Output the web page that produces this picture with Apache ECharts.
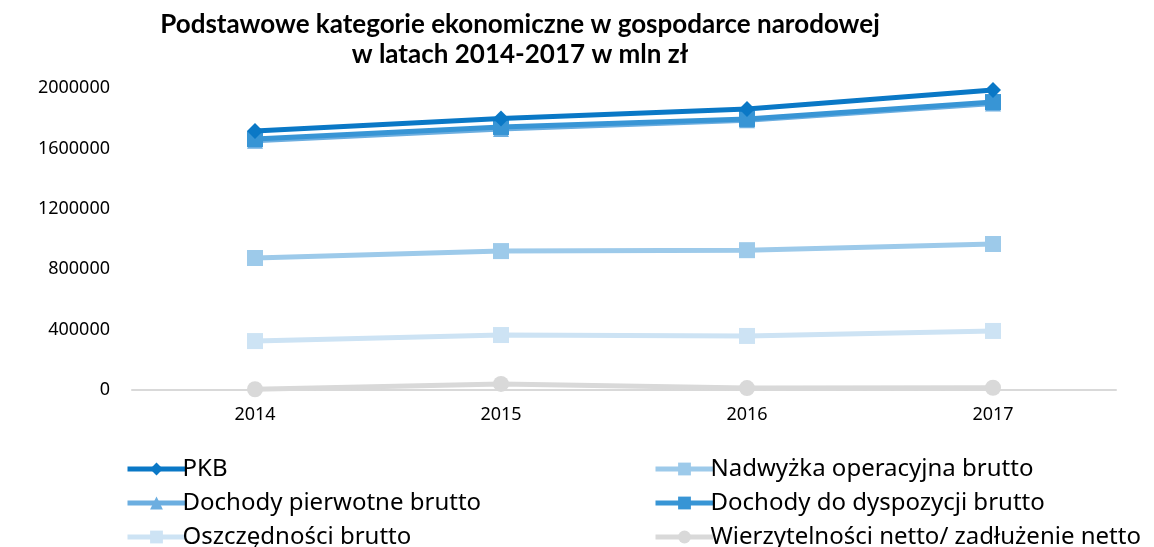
<!DOCTYPE html>
<html><head><meta charset="utf-8">
<script src="https://cdn.jsdelivr.net/npm/echarts@6/dist/echarts.min.js"></script>
<style>html,body{margin:0;padding:0;background:#fff}#c{width:1154px;height:547px}</style>
</head><body><div id="c"></div>
<script>
const categories = ['2014','2015','2016','2017'];
const pkb = [1716000, 1798000, 1861000, 1987000];
const nadwyzka = [874000, 920000, 926000, 967000];
const dochodyPierwotne = [1650000, 1728000, 1786000, 1898000];
const dochodyDyspozycji = [1662000, 1742000, 1795000, 1907000];
const oszczednosci = [324000, 364000, 358000, 391000];
const wierzytelnosci = [5000, 40000, 13000, 15000];
const names = ['PKB','Nadwyżka operacyjna brutto','Dochody pierwotne brutto','Dochody do dyspozycji brutto','Oszczędności brutto','Wierzytelności netto/ zadłużenie netto'];

const font = 'Noto Sans';
function s(name, data, color, symbol, size, z){
  return {name, type:'line', data, symbol, symbolSize:size, z,
    lineStyle:{color, width:5}, itemStyle:{color}, showSymbol:true, animation:false};
}
const legendCommon = {orient:'vertical', top:448, height:120, itemWidth:58, itemHeight:16, itemGap:2,
  lineStyle:{width:5}, textStyle:{fontFamily:font, fontSize:24, lineHeight:32, color:'#000', padding:[0,0,0,-8]}};
const chart = echarts.init(document.getElementById('c'));
chart.setOption({
  animation:false,
  title:{text:'Podstawowe kategorie ekonomiczne w gospodarce narodowej\nw latach 2014-2017 w mln zł', left:515, textAlign:'center', top:5,
    textStyle:{fontFamily:'Lato', fontWeight:'bold', fontSize:26, lineHeight:30, color:'#000'}},
  grid:{left:132, right:38, top:88, bottom:157},
  xAxis:{type:'category', data:categories, boundaryGap:true,
    axisLine:{lineStyle:{color:'#d9d9d9', width:2}}, axisTick:{show:false},
    axisLabel:{fontFamily:font, fontSize:18, color:'#000', margin:16}},
  yAxis:{type:'value', min:0, max:2000000, interval:400000, splitLine:{show:false},
    axisLine:{show:false}, axisTick:{show:false},
    axisLabel:{fontFamily:font, fontSize:18, color:'#000', margin:22, formatter:v=>String(v)}},
  legend:[
    Object.assign({data:[names[0],names[2],names[4]], left:120}, legendCommon),
    Object.assign({data:[names[1],names[3],names[5]], left:648}, legendCommon)
  ],
  series:[
    s(names[0], pkb, '#0a78c6', 'diamond', 16, 10),
    s(names[1], nadwyzka, '#9dcaea', 'rect', 16, 5),
    s(names[2], dochodyPierwotne, '#6caee0', 'triangle', 16, 6),
    s(names[3], dochodyDyspozycji, '#3895d5', 'rect', 16, 7),
    s(names[4], oszczednosci, '#cde3f4', 'rect', 16, 4),
    s(names[5], wierzytelnosci, '#d9d9d9', 'circle', 16, 3)
  ]
});
</script></body></html>
